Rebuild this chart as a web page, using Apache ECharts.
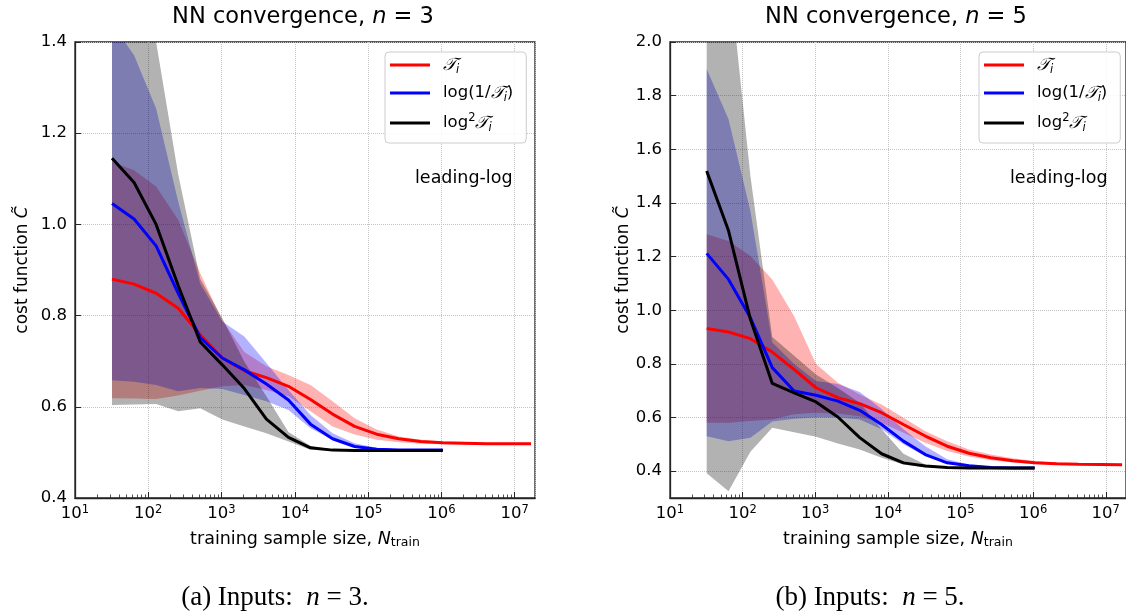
<!DOCTYPE html>
<html><head><meta charset="utf-8">
<script src="https://cdn.jsdelivr.net/npm/echarts@6/dist/echarts.min.js"></script>
<style>html,body{margin:0;padding:0;background:#fff}#c{width:1126px;height:611px}</style>
</head><body><div id="c"></div>
<script>
// ---- data ----
const N_ALL = [32,64,128,256,512,1024,2048,4096,8192,16384,32768,65536,131072,262144,524288,1048576,2097152,4194304,8388608,16777216];
const N_SHORT = [32,64,128,256,512,1024,2048,4096,8192,16384,32768,65536,131072,262144,524288,1048576];
const X_MIN = 10, X_MAX = 1.9e7;
const Y_TICKS_N3 = [0.4,0.6,0.8,1.0,1.2,1.4];
const Y_TICKS_N5 = [0.4,0.6,0.8,1.0,1.2,1.4,1.6,1.8,2.0];
const MINOR_MULT = [2,3,4,5,6,7,8,9];
const DECADES = [10,100,1000,10000,100000,1000000,10000000];
const SERIES_NAMES = ['Ti','log1','log2'];

// n = 3
const red3 = [0.880,0.869,0.849,0.816,0.758,0.707,0.679,0.664,0.645,0.616,0.584,0.557,0.540,0.530,0.524,0.521,0.520,0.519,0.519,0.519];
const red3Hi = [1.137,1.119,1.083,1.010,0.893,0.790,0.720,0.689,0.670,0.648,0.612,0.575,0.550,0.535,0.528,0.524,0.522,0.521,0.521,0.521];
const red3Lo = [0.619,0.618,0.617,0.625,0.635,0.645,0.648,0.637,0.623,0.590,0.557,0.539,0.528,0.522,0.519,0.518,0.517,0.517,0.517,0.517];
const blue3 = [1.046,1.012,0.953,0.849,0.752,0.707,0.681,0.650,0.615,0.562,0.530,0.513,0.507,0.505,0.505,0.505];
const blue3Hi = [1.440,1.371,1.254,1.050,0.870,0.787,0.754,0.696,0.637,0.582,0.542,0.520,0.510,0.507,0.506,0.506];
const blue3Lo = [0.658,0.655,0.648,0.634,0.641,0.639,0.626,0.612,0.593,0.553,0.528,0.513,0.507,0.505,0.504,0.504];
const black3 = [1.145,1.092,1.000,0.866,0.742,0.692,0.640,0.573,0.533,0.510,0.505,0.504,0.504,0.504,0.504,0.504];
const black3Hi = [1.650,1.550,1.400,1.110,0.880,0.794,0.699,0.623,0.545,0.514,0.506,0.505,0.505,0.505,0.505,0.505];
const black3Lo = [0.604,0.605,0.606,0.590,0.597,0.572,0.557,0.542,0.524,0.506,0.503,0.503,0.503,0.503,0.503,0.503];

// n = 5
const red5 = [0.932,0.919,0.894,0.844,0.779,0.711,0.674,0.652,0.618,0.574,0.531,0.493,0.467,0.450,0.439,0.431,0.428,0.426,0.425,0.424];
const red5Hi = [1.283,1.258,1.202,1.115,0.978,0.800,0.730,0.686,0.649,0.599,0.549,0.512,0.481,0.462,0.448,0.438,0.432,0.429,0.428,0.427];
const red5Lo = [0.581,0.581,0.587,0.593,0.612,0.618,0.615,0.605,0.581,0.543,0.506,0.475,0.455,0.441,0.432,0.427,0.424,0.423,0.422,0.422];
const blue5 = [1.212,1.115,0.972,0.786,0.699,0.683,0.661,0.627,0.574,0.512,0.462,0.431,0.420,0.414,0.412,0.412];
const blue5Hi = [1.899,1.712,1.370,0.880,0.800,0.736,0.725,0.695,0.632,0.556,0.493,0.444,0.425,0.417,0.414,0.413];
const blue5Lo = [0.530,0.512,0.525,0.585,0.595,0.600,0.600,0.593,0.556,0.500,0.456,0.431,0.418,0.413,0.411,0.411];
const black5 = [1.519,1.296,0.966,0.727,0.692,0.658,0.602,0.525,0.465,0.431,0.419,0.414,0.412,0.412,0.412,0.412];
const black5Hi = [2.400,2.280,1.500,0.900,0.830,0.760,0.710,0.655,0.556,0.465,0.425,0.415,0.413,0.413,0.413,0.413];
const black5Lo = [0.392,0.325,0.472,0.562,0.545,0.528,0.503,0.481,0.450,0.425,0.415,0.412,0.411,0.411,0.411,0.411];

// ---- chart ----
const FONT = 'DejaVu Sans';
const AX = '#262626';
const MINOR_TICKS = [];
DECADES.forEach(d => MINOR_MULT.forEach(m => { const v = Math.log10(m * d); if (v < Math.log10(X_MAX)) MINOR_TICKS.push(v); }));

const pairs = (xs, ys) => ys.map((y, i) => [xs[i], y]);

function band(id, xs, lo, hi, color, xi, yi) {
  const flat = [];
  xs.forEach((x, i) => { flat.push(x, lo[i], hi[i]); });
  const n = xs.length;
  return {type:'custom', id:id, xAxisIndex:xi, yAxisIndex:yi, silent:true, z:1,
    encode:{x:0, y:1}, data:[flat],
    renderItem:(params, api) => {
      const up = [], dn = [];
      for (let i = 0; i < n; i++) {
        const x = api.value(3 * i);
        dn.push(api.coord([x, api.value(3 * i + 1)]));
        up.push(api.coord([x, api.value(3 * i + 2)]));
      }
      const cs = params.coordSys;
      return {type:'polygon', shape:{points:up.concat(dn.reverse())}, style:{fill:color},
        clipPath:{type:'rect', shape:{x:cs.x, y:cs.y, width:cs.width, height:cs.height}}};
    }
  };
}
function mean(name, xs, ys, color, xi, yi) {
  return {type:'line', name:name, xAxisIndex:xi, yAxisIndex:yi, data:pairs(xs, ys), symbol:'none',
    lineStyle:{color:color, width:3}, itemStyle:{color:color}, z:3};
}

function mainX(gi) {
  return {type:'log', logBase:10, gridIndex:gi, min:X_MIN, max:X_MAX, position:'bottom',
    axisLine:{show:true, onZero:false, lineStyle:{color:AX, width:1.3}},
    axisTick:{show:true, inside:true, length:6, lineStyle:{color:AX, width:1}},
    axisLabel:{color:'#000', fontSize:16.5, fontFamily:FONT, margin:6, showMaxLabel:false, showMinLabel:true,
      formatter: v => '10{s|' + Math.round(Math.log10(v)) + '}',
      rich:{s:{fontSize:11.5, fontFamily:FONT, color:'#000', verticalAlign:'top', padding:[0,0,7,0]}}},
    splitLine:{show:true, lineStyle:{type:'dotted', color:'#c4c4c4', width:1}},
    name:'training sample size, {i|N}{s|train}', nameLocation:'middle', nameGap:32,
    nameTextStyle:{fontSize:17.5, fontFamily:FONT, color:'#000',
      rich:{i:{fontSize:17.5, fontStyle:'italic', fontFamily:FONT, color:'#000'},
            s:{fontSize:12.5, fontFamily:FONT, color:'#000', verticalAlign:'bottom', padding:[6,0,0,0]}}}
  };
}
function minorX(gi) {
  return {type:'value', gridIndex:gi, min:1, max:Math.log10(X_MAX), position:'bottom',
    axisLine:{show:false, onZero:false}, axisLabel:{show:false}, splitLine:{show:false},
    axisTick:{show:true, inside:true, length:3.5, customValues:MINOR_TICKS, lineStyle:{color:AX, width:0.8}}};
}
function yAx(gi, min, max, ticks, gap) {
  return {type:'value', gridIndex:gi, min:min, max:max,
    axisLine:{show:true, onZero:false, lineStyle:{color:AX, width:1.3}},
    axisTick:{show:true, inside:true, length:6, customValues:ticks, lineStyle:{color:AX, width:1}},
    axisLabel:{color:'#000', fontSize:16.5, fontFamily:FONT, margin:8, customValues:ticks, formatter: v => v.toFixed(1)},
    splitLine:{show:true, lineStyle:{type:'dotted', color:'#c4c4c4', width:1}},
    name:'cost function {c|C\u0303}', nameLocation:'middle', nameGap:gap, nameRotate:90,
    nameTextStyle:{fontSize:17, fontFamily:FONT, color:'#000',
      rich:{c:{fontSize:17, fontStyle:'italic', fontFamily:FONT, color:'#000'}}}
  };
}

const legendRich = {
  t:{fontSize:16.5, fontFamily:FONT, color:'#000', lineHeight:22},
  cal:{fontSize:17.5, fontFamily:'DejaVu Serif', fontStyle:'italic', color:'#000', lineHeight:22},
  sub:{fontSize:11.5, fontFamily:FONT, fontStyle:'italic', color:'#000', lineHeight:22, verticalAlign:'bottom'},
  sup:{fontSize:11.5, fontFamily:FONT, color:'#000', lineHeight:22, verticalAlign:'top'}
};
function legendFmt(name) {
  if (name === 'Ti') return '{cal|\uD835\uDCAF}{sub|i}';
  if (name === 'log1') return '{t|log(1/}{cal|\uD835\uDCAF}{sub|i}{t|)}';
  return '{t|log}{sup|2}{cal|\uD835\uDCAF}{sub|i}';
}
function legend(left) {
  return {data:SERIES_NAMES, orient:'vertical', left:left, top:52, icon:'rect', itemWidth:40, itemHeight:3, itemGap:8,
    padding:[4,13,9,5], borderColor:'#cccccc', borderWidth:1, borderRadius:4, backgroundColor:'rgba(255,255,255,0.85)',
    selectedMode:false, formatter:legendFmt,
    textStyle:{fontSize:16.5, fontFamily:FONT, color:'#000', padding:[0,0,0,8], rich:legendRich}};
}

const titleRich = {i:{fontStyle:'italic', fontSize:22.5, fontFamily:FONT, fill:'#000'}};
const capRich = {i:{fontStyle:'italic', fontSize:27, fontFamily:'Liberation Serif', fill:'#000'}};

const RED_BAND = 'rgba(255,0,0,0.3)', BLUE_BAND = 'rgba(0,0,255,0.3)', GRAY_BAND = 'rgba(0,0,0,0.3)';

const option = {
  animation:false,
  textStyle:{fontFamily:FONT},
  grid:[
    {left:75, top:42, width:460, height:456, show:true, borderColor:AX, borderWidth:1.3, backgroundColor:'transparent'},
    {left:670, top:42, width:457, height:456, show:true, borderColor:AX, borderWidth:1.3, backgroundColor:'transparent'}
  ],
  xAxis:[mainX(0), minorX(0), mainX(1), minorX(1)],
  yAxis:[yAx(0, 0.4, 1.4, Y_TICKS_N3, 44), yAx(1, 0.3, 2.0, Y_TICKS_N5, 37)],
  legend:[legend(385), legend(979)],
  graphic:[
    {type:'text', x:303, y:17, style:{text:'NN convergence, {i|n} = 3', fontSize:22.5, fontFamily:FONT, fill:'#000', textAlign:'center', textVerticalAlign:'middle', rich:titleRich}},
    {type:'text', x:896, y:17, style:{text:'NN convergence, {i|n} = 5', fontSize:22.5, fontFamily:FONT, fill:'#000', textAlign:'center', textVerticalAlign:'middle', rich:titleRich}},
    {type:'text', x:415, y:178, style:{text:'leading-log', fontSize:17.5, fontFamily:FONT, fill:'#000', textVerticalAlign:'middle'}},
    {type:'text', x:1010, y:178, style:{text:'leading-log', fontSize:17.5, fontFamily:FONT, fill:'#000', textVerticalAlign:'middle'}},
    {type:'text', x:275, y:598, style:{text:'(a) Inputs:  {i|n} = 3.', fontSize:27, fontFamily:'Liberation Serif', fill:'#000', textAlign:'center', textVerticalAlign:'middle', rich:capRich}},
    {type:'text', x:870, y:598, style:{text:'(b) Inputs:  {i|n} = 5.', fontSize:27, fontFamily:'Liberation Serif', fill:'#000', textAlign:'center', textVerticalAlign:'middle', rich:capRich}}
  ],
  series:[
    band('r3', N_ALL, red3Lo, red3Hi, RED_BAND, 0, 0),
    band('b3', N_SHORT, blue3Lo, blue3Hi, BLUE_BAND, 0, 0),
    band('k3', N_SHORT, black3Lo, black3Hi, GRAY_BAND, 0, 0),
    mean('Ti', N_ALL, red3, '#ff0000', 0, 0), mean('log1', N_SHORT, blue3, '#0000ff', 0, 0), mean('log2', N_SHORT, black3, '#000000', 0, 0),
    band('r5', N_ALL, red5Lo, red5Hi, RED_BAND, 2, 1),
    band('b5', N_SHORT, blue5Lo, blue5Hi, BLUE_BAND, 2, 1),
    band('k5', N_SHORT, black5Lo, black5Hi, GRAY_BAND, 2, 1),
    mean('Ti', N_ALL, red5, '#ff0000', 2, 1), mean('log1', N_SHORT, blue5, '#0000ff', 2, 1), mean('log2', N_SHORT, black5, '#000000', 2, 1)
  ]
};
const chart = echarts.init(document.getElementById('c'), null, {renderer:'canvas'});
chart.setOption(option);
</script>
</body></html>
